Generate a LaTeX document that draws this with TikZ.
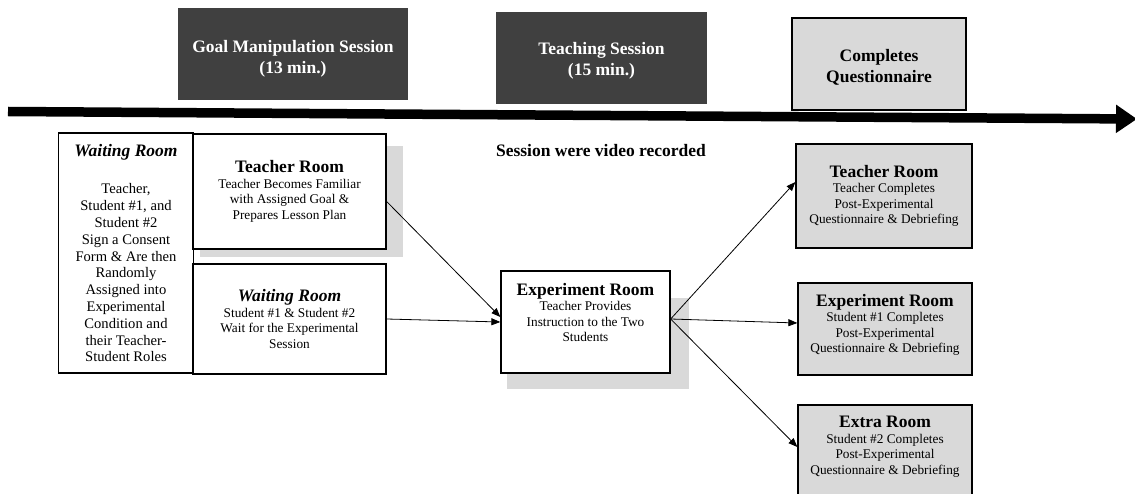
\documentclass[tikz,border=0pt]{standalone}
\usepackage{fontspec}
\setmainfont{Liberation Serif}
\usetikzlibrary{arrows.meta, positioning}
\definecolor{darkbox}{HTML}{404040}
\definecolor{lightbox}{HTML}{D9D9D9}
\newcommand{\roomtitle}[1]{{\fontsize{17.5}{17.5}\selectfont\bfseries #1}}
\newcommand{\padb}[1]{\\[#1]\mbox{}}
\newcommand{\padt}[1]{\mbox{}\\[#1]}

\begin{document}
\begin{tikzpicture}[x=1pt, y=-1pt,
  session/.style={rectangle, fill=darkbox, text=white, align=center,
                  inner sep=0pt, font=\fontsize{17.5}{21}\selectfont\bfseries},
  room/.style={rectangle, draw=black, line width=1.3pt, fill=white,
               align=center, inner sep=0pt,
               font=\fontsize{13.3}{15.5}\selectfont},
  post/.style={room, fill=lightbox},
  shade/.style={fill=lightbox},
  flow/.style={-{Triangle[length=9pt, width=7pt]}, line width=0.8pt},
  timeline/.style={-{Triangle[length=21pt, width=27pt]}, line width=9.5pt}
]
  \useasboundingbox (0,0) rectangle (1135,494);

  % sessions along the time line
  \node[session, minimum width=230, minimum height=92] (goal) at (293,54)
    {\padt{1pt}Goal Manipulation Session\\(13 min.)};
  \node[session, minimum width=211, minimum height=92] (teach) at (601.5,58)
    {\padt{-3pt}Teaching Session\\(15 min.)};
  \node[post, font=\fontsize{17.5}{21}\selectfont\bfseries,
        minimum width=174, minimum height=92] (quest) at (879,64)
    {\padt{-3pt}Completes\\Questionnaire};

  \coordinate (tl0) at (8,111.5);
  \coordinate (tl1) at (1137,119);
  \draw[timeline] (tl0) -- (tl1);

  % shadows
  \fill[shade] (200,146) rectangle (403,257);
  \fill[shade] (507,298) rectangle (689,389);

  % rooms
  \node[room, font=\fontsize{14.6}{16.8}\selectfont,
        minimum width=135, minimum height=240] (waitL) at (126,253)
    {\roomtitle{\itshape Waiting Room}\\[21pt]
     Teacher,\\Student \#1, and\\Student \#2\\Sign a Consent\\
     Form \& Are then\\Randomly\\Assigned into\\Experimental\\
     Condition and\\their Teacher-\\Student Roles};
  \node[room, minimum width=193, minimum height=115] (teacherL) at (289.5,191.5)
    {\roomtitle{Teacher Room}\\Teacher Becomes Familiar\\
     with Assigned Goal \&\\Prepares Lesson Plan};
  \node[room, minimum width=193, minimum height=110] (waitM) at (289.5,319)
    {\roomtitle{\itshape Waiting Room}\\Student \#1 \& Student \#2\\
     Wait for the Experimental\\Session};
  \node[room, minimum width=169, minimum height=102] (exp) at (585.5,322)
    {\roomtitle{Experiment Room}\\Teacher Provides\\
     Instruction to the Two\\Students\padb{4pt}};

  \node[font=\fontsize{17.5}{17.5}\selectfont\bfseries, inner sep=0pt] (video)
    at (601,151) {Session were video recorded};

  \node[post, minimum width=176, minimum height=104] (teacherR) at (884,196)
    {\roomtitle{Teacher Room}\\Teacher Completes\\
     Post-Experimental\\Questionnaire \& Debriefing};
  \node[post, minimum width=174, minimum height=92] (expR) at (885,329)
    {\roomtitle{Experiment Room}\\Student \#1 Completes\\
     Post-Experimental\\Questionnaire \& Debriefing\padb{-4pt}};
  \node[post, minimum width=174, minimum height=100] (extraR) at (885,455)
    {\roomtitle{Extra Room}\\Student \#2 Completes\\
     Post-Experimental\\Questionnaire \& Debriefing\padb{4pt}};

  % connectors
  \draw[flow] ([yshift=-10pt]teacherL.east) -- ([yshift=5pt]exp.west);
  \draw[flow] (waitM.east) -- (exp.west);
  \coordinate (fork) at ([yshift=3pt]exp.east);
  \draw[flow] (fork) -- ([yshift=14pt]teacherR.west);
  \draw[flow] (fork) -- ([yshift=6pt]expR.west);
  \draw[flow] (fork) -- ([yshift=8pt]extraR.west);
\end{tikzpicture}
\end{document}
